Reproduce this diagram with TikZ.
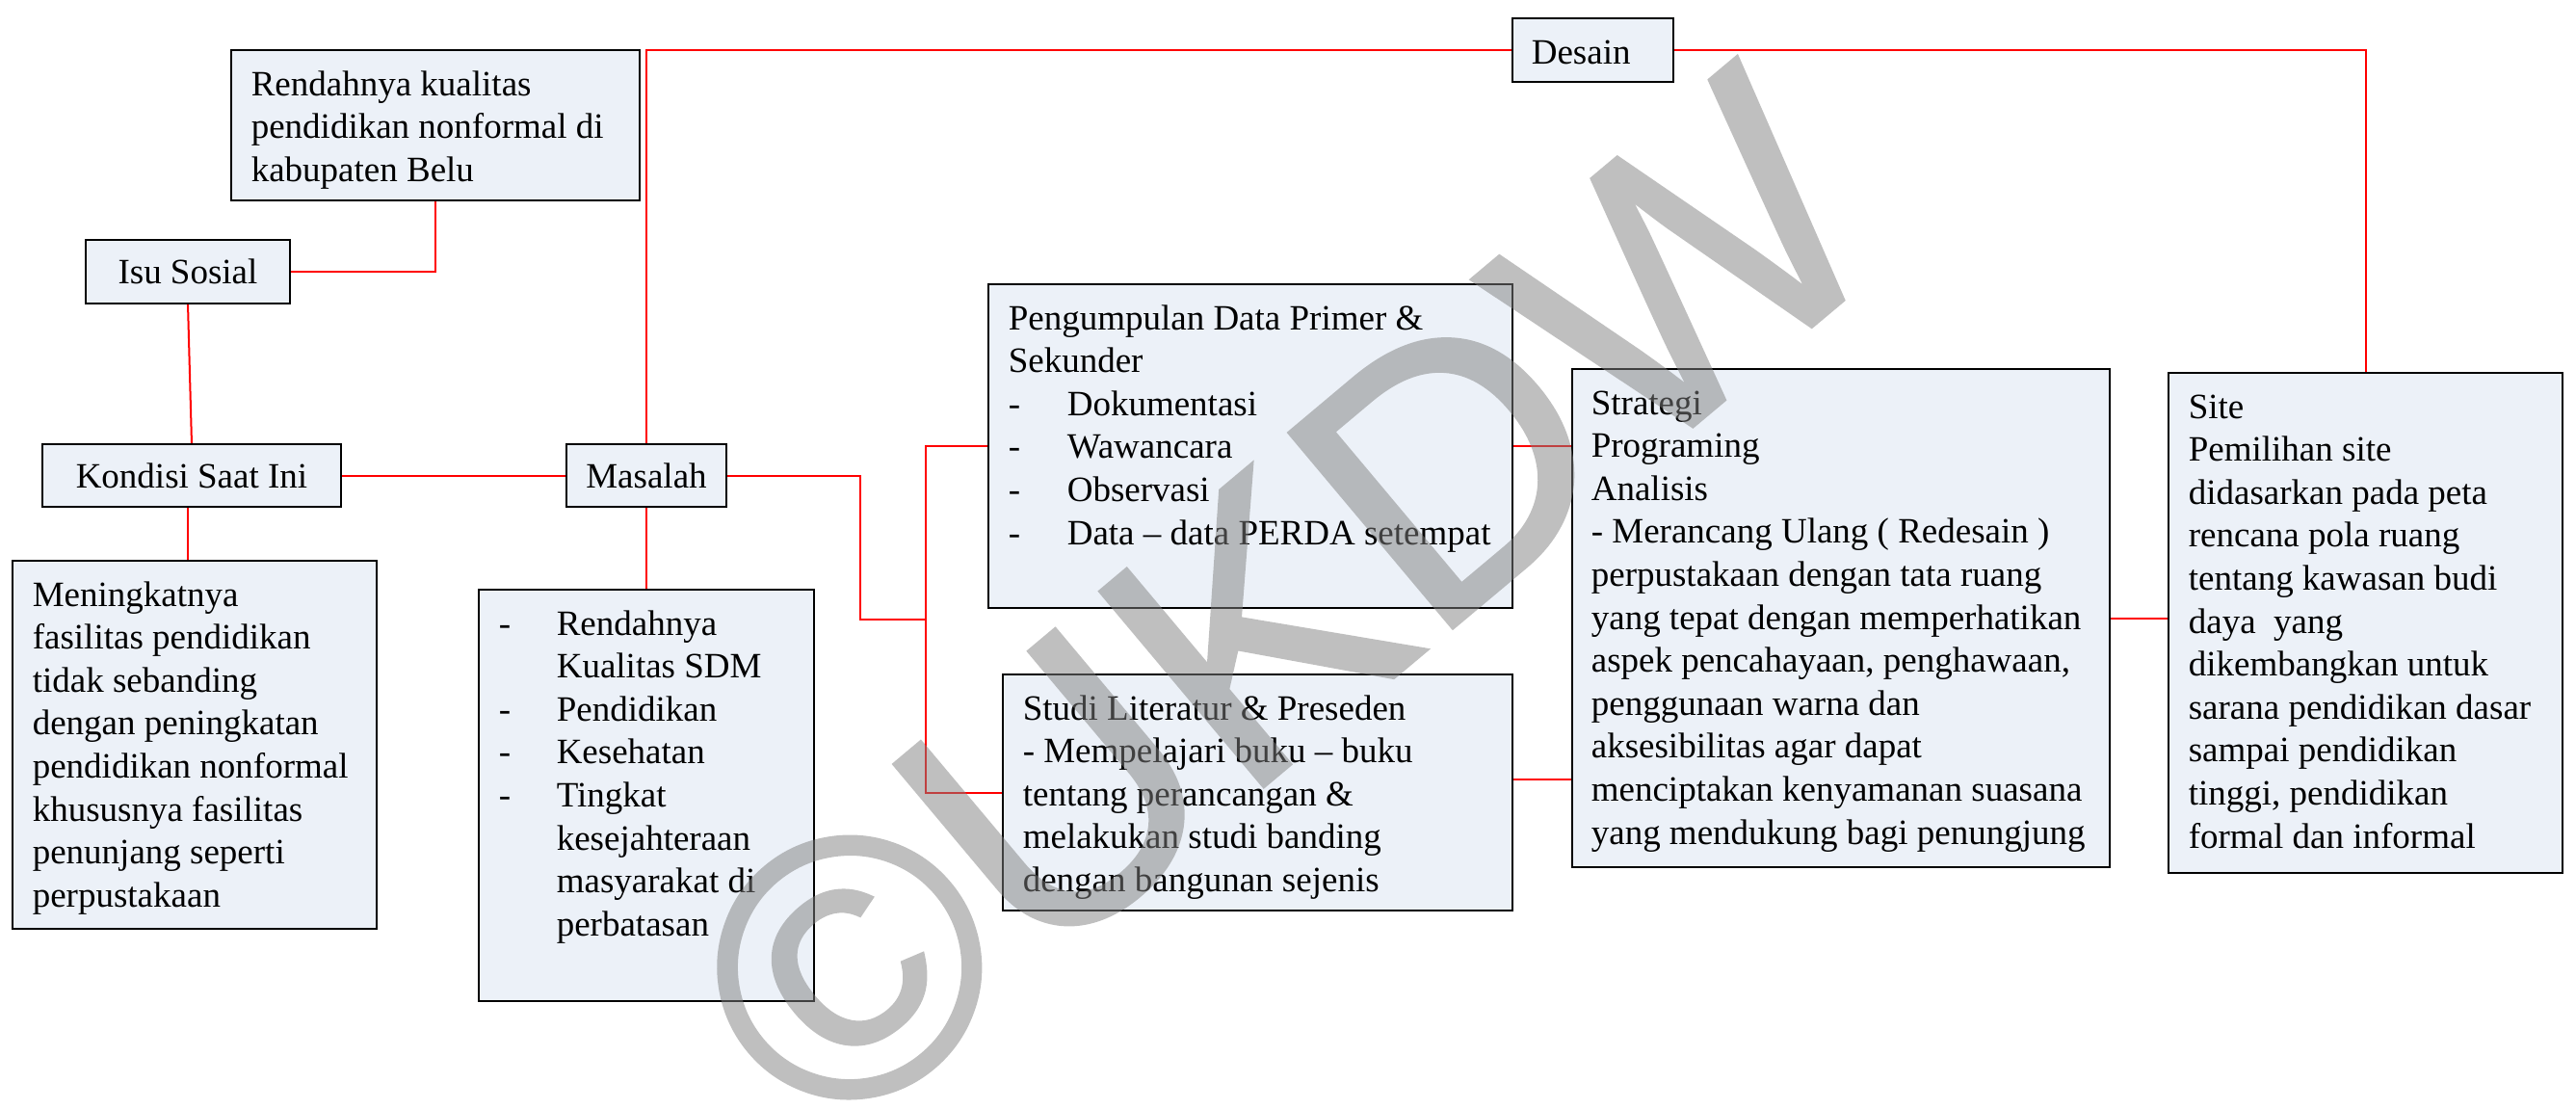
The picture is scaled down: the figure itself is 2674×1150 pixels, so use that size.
\documentclass[tikz,border=0pt]{standalone}
\usepackage{fontspec}
\setmainfont{Liberation Serif}
\newfontfamily\wmfont[FakeBold=1]{Liberation Sans}
\usetikzlibrary{calc,backgrounds}
\definecolor{boxfill}{RGB}{236,241,248}
\definecolor{linkred}{RGB}{255,0,0}
\definecolor{wmgray}{RGB}{128,128,128}
\newcommand\bodyfont{\fontsize{9.25pt}{11.15pt}\selectfont}
\newcommand\mkbox[5]{\node[box, minimum width=#4*0.25pt, minimum height=#5*0.25pt] (#1) at (#2,#3) {};}
\newcommand\dsh[1]{\makebox[15.25pt][l]{-}#1}
\newcommand\dshb[1]{\makebox[15pt][l]{-}#1}
\begin{document}
\begin{tikzpicture}[x=0.25pt,y=-0.25pt,
  box/.style={draw=black, line width=0.7pt, fill=boxfill, anchor=north west, inner sep=0pt, outer sep=0pt},
  cbox/.style={box, font=\bodyfont, align=center},
  txt/.style={anchor=north west, inner sep=0pt, align=left, font=\bodyfont},
  link/.style={draw=linkred, line width=0.5pt},
  wm/.style={rotate=40, anchor=base west, inner sep=0pt, text=wmgray,
             font=\wmfont\fontsize{96pt}{100pt}\selectfont}]
\useasboundingbox (0,0) rectangle (2674,1150);

% boxes
\mkbox{rend}{240}{52}{424}{156}
\node[cbox, minimum width=212*0.25pt, minimum height=66*0.25pt] (isu) at (89,249) {Isu Sosial};
\node[cbox, minimum width=310*0.25pt, minimum height=65*0.25pt] (kond) at (44,461) {Kondisi Saat Ini};
\node[cbox, minimum width=166*0.25pt, minimum height=65*0.25pt] (mas) at (588,461) {Masalah};
\mkbox{men}{13}{582}{378}{382}
\mkbox{mlist}{497}{612}{348}{427}
\mkbox{des}{1570}{19}{167}{66}
\mkbox{pen}{1026}{295}{544}{336}
\mkbox{stu}{1041}{700}{529}{245}
\mkbox{str}{1632}{383}{558}{517}
\mkbox{site}{2251}{387}{409}{519}

% connectors
\coordinate (k1) at (195,0);
\coordinate (j1) at (893,643);
\coordinate (brk) at (961,643);
\coordinate (s1) at (0,809);
\begin{pgfonlayer}{background}
\draw[link] (isu.east) -| (rend.south);
\draw[link] (isu.south) -- (kond.north);
\draw[link] (kond.east) -- (mas.west);
\draw[link] (kond.south -| k1) -- (men.north -| k1);
\draw[link] (mas.south) -- (mlist.north);
\draw[link] (mas.north) |- (des.west);
\draw[link] (des.east) -| (site.north);
\draw[link] (mas.east) -| (j1) -- (brk);
\draw[link] (pen.west) -- (pen.west -| brk) -- (stu.west -| brk) -- (stu.west);
\draw[link] (pen.east) -- (pen.east -| str.west);
\draw[link] (stu.east |- s1) -- (str.west |- s1);
\draw[link] (str.east) -- (str.east -| site.west);
\end{pgfonlayer}

% texts
\node[txt] (rendt) at (260,67) {\strut Rendahnya kualitas\\pendidikan nonformal di\\kabupaten Belu};
\node[txt] (ment) at (33,597) {\strut Meningkatnya\\fasilitas pendidikan\\tidak sebanding\\dengan peningkatan\\pendidikan nonformal\\khususnya fasilitas\\penunjang seperti\\perpustakaan};
\node[txt] (mlistt) at (517,627) {\strut\dshb{Rendahnya}\\\hspace*{15pt}Kualitas SDM\\\dshb{Pendidikan}\\\dshb{Kesehatan}\\\dshb{Tingkat}\\\hspace*{15pt}kesejahteraan\\\hspace*{15pt}masyarakat di\\\hspace*{15pt}perbatasan};
\node[txt] (dest) at (1589,34) {\strut Desain};
\node[txt] (pent) at (1046,310) {\strut Pengumpulan Data Primer \&\\Sekunder\\\dsh{Dokumentasi}\\\dsh{Wawancara}\\\dsh{Observasi}\\\dsh{Data -- data PERDA setempat}};
\node[txt] (stut) at (1061,715) {\strut Studi Literatur \& Preseden\\- Mempelajari buku -- buku\\tentang perancangan \&\\melakukan studi banding\\dengan bangunan sejenis};
\node[txt] (strt) at (1651,398) {\strut Strategi\\Programing\\Analisis\\- Merancang Ulang ( Redesain )\\perpustakaan dengan tata ruang\\yang tepat dengan memperhatikan\\aspek pencahayaan, penghawaan,\\penggunaan warna dan\\aksesibilitas agar dapat\\menciptakan kenyamanan suasana\\yang mendukung bagi penungjung};
\node[txt] (sitet) at (2271,402) {\strut Site\\Pemilihan site\\didasarkan pada peta\\rencana pola ruang\\tentang kawasan budi\\daya\ \ yang\\dikembangkan untuk\\sarana pendidikan dasar\\sampai pendidikan\\tinggi, pendidikan\\formal dan informal};

% watermark
\begin{scope}[transparency group, opacity=0.5]
\node[wm] (wmark) at (858,1197) {©UKDW};
\end{scope}
\end{tikzpicture}
\end{document}
